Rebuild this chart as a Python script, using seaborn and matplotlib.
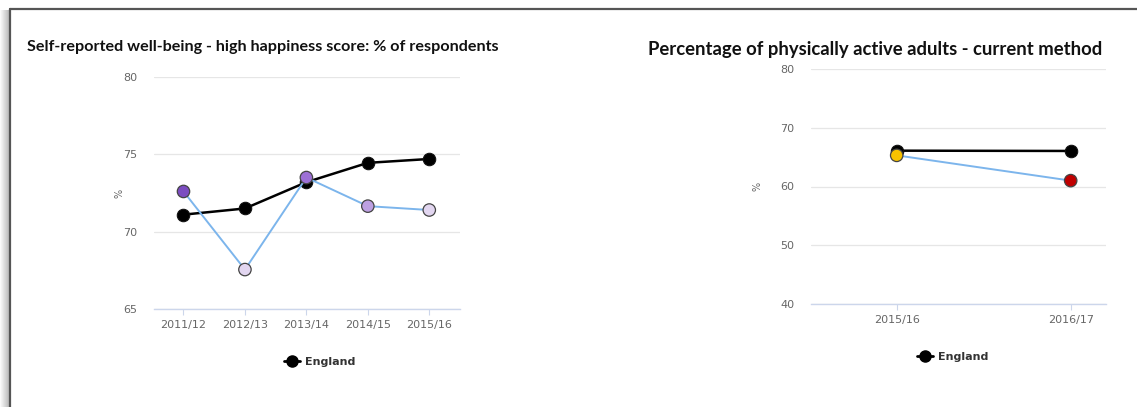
import matplotlib
matplotlib.use("Agg")
import matplotlib.pyplot as plt
import seaborn as sns
import pandas as pd
from matplotlib.lines import Line2D
from matplotlib.patches import Rectangle

# ---------------- data ----------------
left_title = "Self-reported well-being - high happiness score: % of respondents"
left_periods = ["2011/12", "2012/13", "2013/14", "2014/15", "2015/16"]
left_england = [71.1, 71.5, 73.2, 74.45, 74.7]
left_local = [72.6, 67.55, 73.5, 71.65, 71.4]
left_local_colors = ["#7B4CC0", "#E2D6F0", "#9D70D6", "#BDA0E2", "#E2D6F0"]
left_yticks = [65, 70, 75, 80]

right_title = "Percentage of physically active adults - current method"
right_periods = ["2015/16", "2016/17"]
right_england = [66.1, 66.05]
right_local = [65.3, 61.0]
right_local_colors = ["#F7C200", "#C00000"]
right_yticks = [40, 50, 60, 70, 80]

legend_label = "England"
y_label = "%"

# ---------------- figure ----------------
sns.set_style("white")
plt.rcParams["font.family"] = ["DejaVu Sans"]

W, H = 1137, 407
fig = plt.figure(figsize=(W / 100, H / 100), dpi=100)
fig.patch.set_facecolor("white")


def rect_px(x0, y0, x1, y1):
    return [x0 / W, 1 - y1 / H, (x1 - x0) / W, (y1 - y0) / H]


def panel(rect, periods, eng, loc, colors, yticks, xlim, ylab_x):
    ax = fig.add_axes(rect)
    df_e = pd.DataFrame({"period": periods, "value": eng})
    sns.lineplot(data=df_e, x="period", y="value", sort=False, color="black",
                 lw=1.8, marker="o", markersize=9, markeredgecolor="#111",
                 ax=ax, zorder=3)
    df_l = pd.DataFrame({"period": periods, "value": loc, "c": colors})
    sns.lineplot(data=df_l, x="period", y="value", sort=False, color="#7CB5EC",
                 lw=1.4, ax=ax, zorder=4)
    sns.scatterplot(data=df_l, x="period", y="value", hue="c",
                    palette={c: c for c in colors}, s=80, edgecolor="#444",
                    linewidth=0.9, legend=False, ax=ax, zorder=5)
    ax.set_xlim(*xlim)
    ax.set_ylim(yticks[0], yticks[-1])
    ax.set_yticks(yticks)
    ax.grid(axis="y", color="#E6E6E6", lw=0.9)
    ax.grid(axis="x", visible=False)
    ax.set_axisbelow(True)
    for s in ["top", "right", "left"]:
        ax.spines[s].set_visible(False)
    ax.spines["bottom"].set_color("#CCD6EB")
    ax.spines["bottom"].set_linewidth(1.0)
    ax.tick_params(axis="x", bottom=True, length=4, width=0.8, color="#CCD6EB",
                   labelcolor="#666666", labelsize=8, pad=4, direction="out")
    ax.tick_params(axis="y", left=False, length=0, labelcolor="#666666",
                   labelsize=8, pad=12)
    ax.set_xlabel("")
    ax.set_ylabel(y_label, color="#666666", fontsize=7)
    ax.yaxis.set_label_coords(ylab_x, 0.5)
    for c in ax.collections:
        c.set_clip_on(False)
    for l in ax.lines:
        l.set_clip_on(False)
    return ax


axL = panel(rect_px(154, 77, 460, 309), left_periods, left_england, left_local,
            left_local_colors, left_yticks, (-0.48, 4.5), -0.095)
axR = panel(rect_px(811, 69, 1106, 304), right_periods, right_england, right_local,
            right_local_colors, right_yticks, (-0.4925, 1.203), -0.166)

# legends
for ax, cx, cy in [(axL, 320, 362), (axR, 953, 357)]:
    h = Line2D([0], [0], color="black", lw=2, marker="o", markersize=8)
    lg = ax.legend(handles=[h], labels=[legend_label], loc="center",
                   bbox_to_anchor=(cx / W, 1 - cy / H), bbox_transform=fig.transFigure,
                   frameon=False, handlelength=1.4, handletextpad=0.5,
                   prop={"weight": "bold", "size": 8})
    for t in lg.get_texts():
        t.set_color("#333333")

# titles fitted to width
renderer = fig.canvas.get_renderer()
for txt, x0, yc, width in [(left_title, 27, 47, 473), (right_title, 648, 49, 456)]:
    t = fig.text(x0 / W, 1 - yc / H, txt, ha="left", va="center",
                 fontweight="bold", fontsize=10, color="#111111",
                 family=["Lato", "DejaVu Sans"])
    bb = t.get_window_extent(renderer)
    t.set_fontsize(10 * width / bb.width)

# border frame with shadow
for i in range(9):
    g = 0.98 - 0.03 * i
    fig.add_artist(Rectangle((i / W, 0), 1 / W, 1 - 10 / H,
                             transform=fig.transFigure, color=(g, g, g), lw=0))
fig.add_artist(Line2D([9.5 / W, 1], [1 - 8.5 / H] * 2, transform=fig.transFigure,
                      color="#555555", lw=1.6))
fig.add_artist(Line2D([9.5 / W] * 2, [0, 1 - 8.5 / H], transform=fig.transFigure,
                      color="#555555", lw=1.6))

fig.savefig("out.png", dpi=100, facecolor="white")
